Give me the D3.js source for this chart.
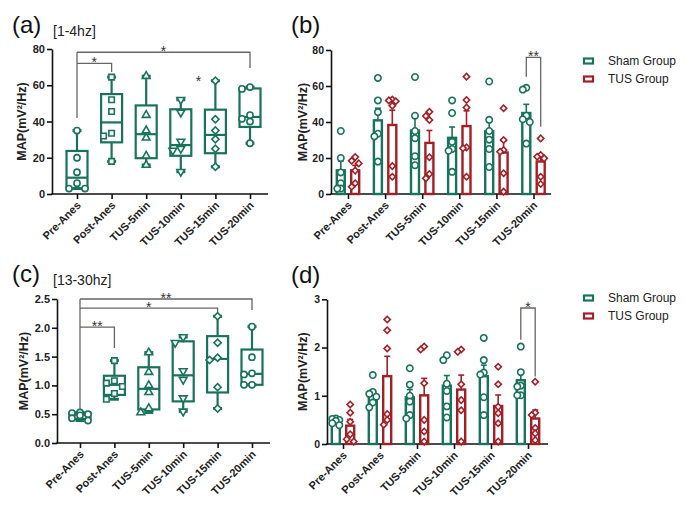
<!DOCTYPE html>
<html><head><meta charset="utf-8">
<script src="https://cdn.jsdelivr.net/npm/d3@7"></script>
<style>body{margin:0;background:#fff} text{font-family:"Liberation Sans",Arial,sans-serif}</style>
</head><body><svg id="c" width="685" height="512"></svg>
<script>
const categories = ["Pre-Anes","Post-Anes","TUS-5min","TUS-10min","TUS-15min","TUS-20min"];
const groupNames = ["Sham Group","TUS Group"];
// [1-4hz] MAP values (mV²/Hz), one array of animals per category
const deltaSham = [
  [35, 20, 12, 6, 3, 3],
  [64.5, 52, 45.5, 33.5, 32, 18],
  [65, 43.5, 35, 31, 21, 16],
  [52, 45, 29, 25, 24, 12.3],
  [62.5, 41.2, 35, 30.2, 25, 15],
  [59, 58, 43.5, 41.5, 40, 28]
];
const deltaTus = [
  [20.5, 18.5, 17, 13, 6, 4],
  [52.5, 52, 51.5, 49, 15.5, 9.6],
  [45.7, 43.3, 41.1, 20.4, 11.1, 8.7],
  [65.2, 52.2, 48.1, 25.9, 25.4, 9.6],
  [47.6, 30, 24.4, 23.5, 11.5, 1.3],
  [30.9, 21.7, 20.7, 19.8, 9.6, 5.6]
];
// [13-30hz]
const betaSham = [
  [0.53, 0.52, 0.5, 0.48, 0.43, 0.39],
  [1.43, 1.08, 1.04, 0.98, 0.86, 0.76],
  [1.57, 1.23, 1.0, 0.88, 0.6, 0.53],
  [1.84, 1.74, 1.25, 1.1, 0.78, 0.55],
  [2.2, 1.74, 1.48, 1.44, 0.97, 0.6],
  [2.02, 1.49, 1.21, 1.19, 1.01, 1.01]
];
const betaTus = [
  [0.82, 0.65, 0.46, 0.2, 0.1, 0.05],
  [2.58, 2.36, 1.98, 0.62, 0.5, 0.4],
  [2.02, 1.96, 1.26, 0.5, 0.26, 0.05],
  [1.96, 1.91, 1.24, 0.91, 0.7, 0.05],
  [1.6, 1.24, 0.77, 0.64, 0.43, 0.05],
  [1.29, 0.65, 0.6, 0.33, 0.22, 0.08]
];
const deltaTicks = [0, 20, 40, 60, 80];
const betaBoxTicks = [0, 0.5, 1.0, 1.5, 2.0, 2.5];
const betaBarTicks = [0, 1, 2, 3];
// significance brackets: from/to category index, bar level, drop levels, label
const sigA = [
  {from: 0, to: 5, y: 78.2, yEnd: 69.5, label: "*"},
  {from: 0, to: 1, y: 72.1, yEnd: 67.3, label: "*"}
];
const sigAStart = 42;
const sigC = [
  {from: 0, to: 5, y: 2.5, yEnd: 2.31, label: "**"},
  {from: 0, to: 4, y: 2.34, yEnd: 2.26, label: "*"},
  {from: 0, to: 1, y: 2.01, yEnd: 1.65, label: "**"}
];
const sigCStart = 0.55;
const sigB = {cat: 5, y: 75.9, yLeft: 65.2, yRight: 37.4, label: "**"};
const sigD = {cat: 5, y: 2.82, yLeft: 2.16, yRight: 1.40, label: "*"};

const GREEN = "#17745a", RED = "#a31f25", GREY = "#666";
const svg = d3.select("#c");

function quart(vals, p) {
  const s = vals.slice().sort((a,b)=>a-b), n = s.length;
  const pos = (n + 1) * p, lo = Math.floor(pos), f = pos - lo;
  if (lo < 1) return s[0];
  if (lo >= n) return s[n-1];
  return s[lo-1] + f * (s[lo] - s[lo-1]);
}
function swarm(vals, y, step, minD, maxK) {
  const placed = [];
  return vals.map(v => {
    const py = y(v);
    const cands = [0];
    for (let k = 1; k <= maxK; k++) cands.push(-k*step, k*step);
    let best = 0, bestD = -1;
    for (const c of cands) {
      const d = placed.length ? d3.min(placed, p => Math.hypot(p.x - c, p.y - py)) : Infinity;
      if (d >= minD) { best = c; bestD = d; break; }
      if (d > bestD) { bestD = d; best = c; }
    }
    placed.push({x: best, y: py});
    return {v, dx: best, py};
  });
}
const symTypes = {
  circle: [d3.symbolCircle, 0, 30],
  square: [d3.symbolSquare, 0, 30],
  triangle: [d3.symbolTriangle, 0, 26],
  triangleDown: [d3.symbolTriangle, 180, 26],
  diamond: [d3.symbolSquare, 45, 26],
  hexagon: [d3.symbolCircle, 0, 30]
};
const boxShapes = ["circle","square","triangle","triangleDown","diamond","hexagon"];

function drawAxes(cfg, x, y) {
  const ya = d3.axisLeft(y).tickValues(cfg.ticks).tickFormat(cfg.fmt).tickSize(5).tickSizeOuter(0);
  const gy = svg.append("g").attr("transform", `translate(${cfg.axisX},0)`).call(ya);
  gy.select(".domain").attr("stroke", "#111").attr("stroke-width", 1.6);
  gy.selectAll(".tick line").attr("stroke", "#111").attr("stroke-width", 1.6);
  gy.selectAll(".tick text").attr("font-size", cfg.tickFont).attr("font-weight", "bold").attr("fill", "#222").attr("x", -7);
  svg.append("line").attr("x1", cfg.axisX - 0.8).attr("x2", cfg.xEnd)
    .attr("y1", y(0)).attr("y2", y(0)).attr("stroke", "#111").attr("stroke-width", 1.6);
  const xa = d3.axisBottom(x).tickSize(5).tickSizeOuter(0);
  const gx = svg.append("g").attr("transform", `translate(0,${y(0)})`).call(xa);
  gx.select(".domain").remove();
  gx.selectAll(".tick line").attr("stroke", "#111").attr("stroke-width", 1.6);
  gx.selectAll(".tick text").attr("y", 0).attr("dy", 0).attr("text-anchor", "end")
    .attr("transform", "translate(4,12) rotate(-45)")
    .attr("font-size", 11).attr("font-weight", "bold").attr("fill", "#222");
  const [r0, r1] = y.range();
  svg.append("text").attr("transform", `translate(${cfg.titleX},${(r0 + r1) / 2}) rotate(-90)`)
    .attr("text-anchor", "middle").attr("dy", "0.35em")
    .attr("font-size", 12.5).attr("font-weight", "bold").attr("fill", "#222")
    .text("MAP(mV²/Hz)");
}

function label(x, yb, big, small) {
  svg.append("text").attr("x", x).attr("y", yb).attr("font-size", 24).attr("fill", "#111").text(big);
  if (small) svg.append("text").attr("x", x + 41).attr("y", yb + 3).attr("font-size", 14).attr("fill", "#222").text(small);
}

function drawBoxPanel(cfg, data, sigs, sigStart) {
  const x = d3.scalePoint().domain(categories).range(cfg.xRange);
  const y = d3.scaleLinear().domain(cfg.domain).range(cfg.yRange);
  drawAxes(cfg, x, y);
  const g0 = svg.append("g");
  const x0 = x(categories[0]);
  g0.append("line").attr("x1", x0).attr("x2", x0).attr("y1", y(sigs[0].y)).attr("y2", y(sigStart))
    .attr("stroke", GREY).attr("stroke-width", 1.3);
  sigs.forEach(s => {
    const xa = x(categories[s.from]), xb = x(categories[s.to]);
    g0.append("path").attr("d", `M${xa},${y(s.y)}H${xb}V${y(s.yEnd)}`)
      .attr("fill", "none").attr("stroke", GREY).attr("stroke-width", 1.3);
    g0.append("text").attr("x", (xa + xb) / 2).attr("y", y(s.y) + 4).attr("text-anchor", "middle")
      .attr("font-size", 14).attr("fill", "#333").text(s.label);
  });
  const hw = 10.5;
  categories.forEach((c, i) => {
    const vals = data[i];
    const cx = x(c);
    const mn = d3.min(vals), mx = d3.max(vals);
    const q1 = quart(vals, 0.25), md = quart(vals, 0.5), q3 = quart(vals, 0.75);
    const g = svg.append("g").attr("stroke", GREEN).attr("fill", "none");
    g.append("line").attr("x1", cx).attr("x2", cx).attr("y1", y(q3)).attr("y2", y(mx)).attr("stroke-width", 2.2);
    g.append("line").attr("x1", cx).attr("x2", cx).attr("y1", y(q1)).attr("y2", y(mn)).attr("stroke-width", 2.2);
    [mn, mx].forEach(v => g.append("line").attr("x1", cx - 4.5).attr("x2", cx + 4.5)
      .attr("y1", y(v)).attr("y2", y(v)).attr("stroke-width", 3));
    g.append("rect").attr("x", cx - hw).attr("y", y(q3)).attr("width", 2 * hw)
      .attr("height", Math.max(0.5, y(q1) - y(q3))).attr("stroke-width", 2.2);
    g.append("line").attr("x1", cx - hw).attr("x2", cx + hw).attr("y1", y(md)).attr("y2", y(md)).attr("stroke-width", 2.2);
    const [type, rot, size] = symTypes[boxShapes[i]];
    const sym = d3.symbol().type(type).size(size);
    swarm(vals, y, 8, 6, 1).forEach(p => {
      g.append("path").attr("d", sym()).attr("fill", "#fff").attr("stroke-width", 1.6)
        .attr("transform", `translate(${cx + p.dx},${p.py}) rotate(${rot})`);
    });
  });
  return {x, y};
}

function drawBarPanel(cfg, sham, tus, sig) {
  const x = d3.scalePoint().domain(categories).range(cfg.xRange);
  const y = d3.scaleLinear().domain(cfg.domain).range(cfg.yRange);
  drawAxes(cfg, x, y);
  const off = 7.2, bw = 8;
  const series = [{data: sham, col: GREEN, dx: -off, shape: [d3.symbolCircle, 0, 32]},
                  {data: tus, col: RED, dx: off, shape: [d3.symbolSquare, 45, 20]}];
  series.forEach(s => {
    categories.forEach((c, i) => {
      const vals = s.data[i];
      const m = d3.mean(vals), sem = d3.deviation(vals) / Math.sqrt(vals.length);
      const cx = x(c) + s.dx;
      const g = svg.append("g").attr("stroke", s.col).attr("fill", "none");
      g.append("line").attr("x1", cx).attr("x2", cx).attr("y1", y(m)).attr("y2", y(m + sem)).attr("stroke-width", 1.6);
      g.append("line").attr("x1", cx - 3).attr("x2", cx + 3).attr("y1", y(m + sem)).attr("y2", y(m + sem)).attr("stroke-width", 1.6);
      g.append("rect").attr("x", cx - bw / 2).attr("y", y(m)).attr("width", bw).attr("height", y(0) - y(m))
        .attr("fill", "#fff").attr("stroke-width", 2.4);
      const sym = d3.symbol().type(s.shape[0]).size(s.shape[2]);
      swarm(vals, y, 3.5, 5, 1).forEach(p => {
        g.append("path").attr("d", sym()).attr("fill", "#fff").attr("stroke-width", 1.6)
          .attr("transform", `translate(${cx + p.dx},${p.py}) rotate(${s.shape[1]})`);
      });
    });
  });
  const xa = x(categories[sig.cat]) - off, xb = x(categories[sig.cat]) + off;
  svg.append("path").attr("d", `M${xa},${y(sig.yLeft)}V${y(sig.y)}H${xb}V${y(sig.yRight)}`)
    .attr("fill", "none").attr("stroke", GREY).attr("stroke-width", 1.3);
  svg.append("text").attr("x", (xa + xb) / 2).attr("y", y(sig.y) + 4).attr("text-anchor", "middle")
    .attr("font-size", 14).attr("fill", "#333").text(sig.label);
  const lg = svg.append("g");
  [GREEN, RED].forEach((col, i) => {
    const ly = cfg.legendY + i * 18;
    lg.append("rect").attr("x", 584).attr("y", ly - 2.5).attr("width", 9).attr("height", 5)
      .attr("fill", "#fff").attr("stroke", col).attr("stroke-width", 2.2);
    lg.append("text").attr("x", 608).attr("y", ly + 4).attr("font-size", 12).attr("fill", "#222").text(groupNames[i]);
  });
}

// (a)
label(12, 33, "(a)", "[1-4hz]");
const A = drawBoxPanel({axisX: 52, xEnd: 268, xRange: [77, 250], yRange: [194, 49], domain: [0, 80],
  ticks: deltaTicks, fmt: d3.format("d"), tickFont: 11, titleX: 22}, deltaSham, sigA, sigAStart);
svg.append("text").attr("x", A.x(categories[4]) - 17).attr("y", A.y(61.8) + 4).attr("text-anchor", "middle")
  .attr("font-size", 14).attr("fill", "#333").text("*");
// (b)
label(291, 33, "(b)");
drawBarPanel({axisX: 331, xEnd: 551, xRange: [348, 533.5], yRange: [194, 50], domain: [0, 80],
  ticks: deltaTicks, fmt: d3.format("d"), tickFont: 10.5, titleX: 303, legendY: 61}, deltaSham, deltaTus, sigB);
// (c)
label(12, 282, "(c)", "[13-30hz]");
drawBoxPanel({axisX: 57, xEnd: 270, xRange: [80, 252], yRange: [443, 299], domain: [0, 2.5],
  ticks: betaBoxTicks, fmt: d3.format(".1f"), tickFont: 11, titleX: 24}, betaSham, sigC, sigCStart);
// (d)
label(291, 283, "(d)");
drawBarPanel({axisX: 327, xEnd: 548, xRange: [343, 528], yRange: [444, 299.3], domain: [0, 3],
  ticks: betaBarTicks, fmt: d3.format("d"), tickFont: 10.5, titleX: 303, legendY: 298}, betaSham, betaTus, sigD);
</script></body></html>
